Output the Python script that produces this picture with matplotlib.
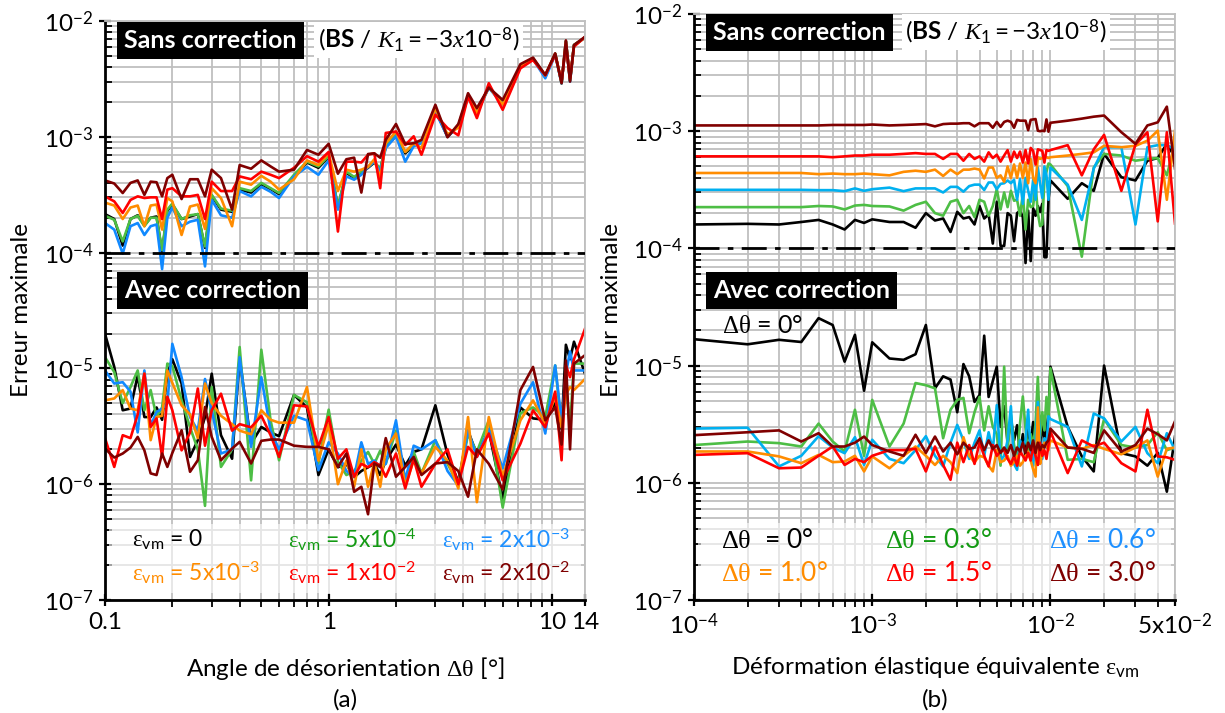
import numpy as np
import matplotlib
matplotlib.use("Agg")
import matplotlib.pyplot as plt
from matplotlib.ticker import FixedLocator, FixedFormatter, NullFormatter
from matplotlib.patches import Rectangle

plt.rcParams.update({
    "font.family": ["Lato", "DejaVu Sans"],
    "mathtext.fontset": "custom",
    "mathtext.rm": "Lato",
    "mathtext.bf": "Lato:bold",
    "mathtext.it": "Liberation Serif:italic",
    "mathtext.sf": "Liberation Serif",
})

# ---- panel (a): misorientation angle (deg)
angle = [0.10, 0.11, 0.12, 0.13, 0.14, 0.15, 0.16, 0.17, 0.18, 0.19, 0.20,
         0.22, 0.24, 0.26, 0.28, 0.30,
         0.33, 0.37, 0.40, 0.45, 0.50, 0.55, 0.60,
         0.70, 0.80, 0.90, 1.0,
         1.1, 1.2, 1.3, 1.4, 1.5, 1.6, 1.7, 1.8,
         2.0, 2.2, 2.4, 2.6,
         3.0, 3.4, 3.8, 4.2, 4.6,
         5.2, 6.0, 7.2, 8.2, 9.3,
         10.3, 11.0, 11.5, 12.0, 12.5, 14.0]

# without correction, units of 1e-4
sans_a_0 = [2.15, 1.95, 1.15, 1.95, 2.1, 1.72, 2.0, 2.05, 1.0, 2.3, 2.6,
            1.95, 2.05, 2.15, 1.1, 3.1,
            2.35, 2.25, 3.5, 3.3, 3.9, 3.55, 3.2,
            4.6, 6.0, 5.4, 6.7,
            2.45, 4.9, 4.4, 4.9, 5.4, 6.0, 5.2, 8.2,
            10.2, 7.2, 8.4, 9.0,
            17, 10, 12.4, 22.5, 16.5,
            26.8, 19.5, 41, 47.5, 33.5,
            52, 29, 67, 30.5, 62, 72]
sans_a_5e4 = [2.08, 1.92, 1.25, 1.95, 2.08, 1.69, 2.0, 2.0, 1.05, 2.35, 2.65,
              1.95, 2.1, 2.15, 1.13, 3.15,
              2.4, 2.3, 3.6, 3.4, 4.0, 3.6, 3.27,
              4.7, 6.1, 5.55, 6.8,
              2.5, 5.0, 4.5, 5.0, 5.5, 6.1, 5.3, 8.3,
              10.3, 7.4, 8.5, 9.1,
              17, 10.2, 12.5, 22.5, 16.5,
              27, 19.5, 41, 47.5, 33,
              52, 29, 67, 30.5, 62, 72]
sans_a_2e3 = [1.8, 1.58, 0.98, 1.69, 1.8, 1.42, 1.69, 1.75, 0.72, 2.0, 2.45,
              1.69, 1.85, 1.92, 0.76, 2.85,
              2.1, 2.0, 3.4, 3.06, 3.7, 3.35, 2.96,
              4.55, 5.5, 4.7, 6.25,
              2.35, 4.55, 4.26, 4.7, 5.5, 6.1, 5.0, 8.0,
              10.1, 6.1, 8.3, 8.8,
              16.5, 10, 12.5, 22, 16,
              26.5, 19, 41, 47, 32,
              51, 29, 66, 30, 61, 72]
sans_a_5e3 = [2.7, 2.55, 1.95, 2.45, 2.55, 1.69, 2.55, 2.6, 1.58, 2.96, 2.77,
              1.42, 2.5, 2.6, 1.6, 3.6,
              2.96, 1.69, 4.1, 3.86, 4.6, 4.1, 3.5,
              4.3, 6.25, 5.7, 7.2,
              3.4, 5.2, 5.0, 5.2, 5.5, 6.4, 4.4, 8.8,
              11.1, 7.4, 8.8, 8.0,
              17.5, 10.5, 12, 22, 16,
              27, 19, 41, 47, 34,
              52, 29.5, 66, 31, 61, 72]
sans_a_1e2 = [3.06, 2.77, 2.2, 2.85, 3.06, 2.96, 3.0, 3.0, 1.95, 3.5, 3.6,
              3.06, 3.06, 3.15, 1.95, 4.1,
              3.4, 3.4, 4.55, 4.3, 5.0, 4.7, 4.4,
              5.4, 6.8, 6.1, 7.4,
              1.52, 6.1, 6.1, 6.0, 7.0, 7.2, 3.6, 10.8,
              11.1, 8.5, 10.1, 7.0,
              15.5, 11.9, 10.3, 22.3, 14.5,
              29, 17.1, 39, 46, 34,
              51, 30, 62, 32, 60, 73]
sans_a_2e2 = [4.2, 3.95, 3.27, 4.0, 4.2, 3.15, 4.1, 4.05, 3.06, 4.4, 4.7,
              2.9, 4.3, 4.3, 3.06, 5.2,
              4.4, 2.35, 5.7, 5.3, 6.25, 5.55, 5.0,
              5.2, 7.7, 7.0, 8.7,
              4.8, 6.4, 6.6, 3.3, 7.1, 7.2, 6.6, 9.4,
              12.9, 8.65, 8.8, 9.4,
              18.9, 9.9, 12.9, 23.8, 17.7,
              26.6, 20.8, 42.4, 48.3, 34.2,
              52.6, 29, 68, 30, 62, 73]

# with correction, units of 1e-6
avec_a_0 = [19.9, 10.3, 4.35, 4.5, 8.7, 3.8, 3.8, 4.6, 3.6, 9.0, 12.0,
            7.4, 1.72, 2.4, 3.8, 9.0,
            2.65, 1.66, 12.2, 2.24, 3.12, 2.8, 2.6,
            5.9, 4.6, 1.2, 2.0,
            1.4, 1.5, 1.15, 1.3, 1.4, 1.5, 1.2, 1.6,
            2.2, 1.45, 1.9, 2.0,
            4.8, 1.8, 1.05, 2.9, 1.8,
            2.9, 0.75, 4.6, 3.7, 3.6,
            5.0, 3.0, 16, 12, 17, 9.0]
avec_a_5e4 = [12.5, 9.3, 5.0, 6.9, 9.6, 4.35, 6.5, 3.8, 4.6, 11.0, 10.5,
              5.3, 3.1, 2.0, 0.65, 6.9,
              1.41, 2.0, 15.3, 1.08, 14.5, 3.56, 1.61,
              5.9, 5.1, 1.51, 4.4,
              1.56, 1.2, 1.3, 1.6, 1.9, 1.5, 1.95, 1.5,
              2.9, 1.08, 1.9, 1.24,
              2.4, 1.5, 1.0, 2.7, 1.9,
              3.56, 0.63, 4.1, 4.6, 3.8,
              10.6, 3.1, 7.6, 3.1, 11, 11]
avec_a_2e3 = [9.6, 7.4, 7.6, 6.3, 2.8, 9.6, 3.2, 4.2, 4.5, 5.0, 16.3,
              8.4, 3.8, 2.9, 8.1, 4.35,
              1.84, 2.0, 12.5, 2.1, 8.4, 2.9, 2.0,
              3.9, 3.56, 1.32, 2.3,
              1.84, 1.3, 1.16, 2.3, 1.5, 1.6, 1.4, 1.5,
              3.56, 1.08, 2.15, 2.0,
              2.4, 1.3, 0.97, 2.9, 1.72,
              3.0, 1.37, 4.96, 7.6, 2.74,
              10.6, 3.5, 9.0, 14, 9.6, 9.6]
avec_a_5e3 = [5.3, 5.5, 6.5, 4.5, 4.35, 9.0, 2.4, 3.8, 3.9, 9.6, 7.5,
              4.8, 4.0, 2.5, 7.4, 5.0,
              3.9, 3.3, 2.9, 2.7, 4.35, 3.6, 3.4,
              3.4, 6.9, 1.6, 3.3,
              1.0, 1.6, 0.95, 2.0, 0.95, 1.55, 0.95, 2.0,
              2.74, 0.97, 1.6, 1.24,
              2.1, 1.6, 0.92, 3.8, 0.7,
              3.8, 1.16, 3.56, 5.3, 3.33,
              5.7, 3.1, 6.0, 6.9, 6.5, 8.1]
avec_a_1e2 = [2.5, 1.41, 2.65, 2.5, 4.0, 9.0, 3.12, 3.7, 1.72, 5.7, 4.35,
              1.96, 2.8, 6.7, 2.15, 4.35,
              6.05, 2.9, 3.3, 3.1, 3.9, 2.65, 1.72,
              4.8, 4.7, 2.1, 3.8,
              1.66, 2.0, 1.16, 1.5, 1.4, 1.55, 1.45, 1.16,
              1.84, 0.92, 1.66, 0.95,
              1.5, 2.0, 1.0, 2.1, 1.72,
              2.74, 1.08, 2.24, 4.35, 3.1,
              6.3, 1.61, 10.6, 8.4, 12, 22]
avec_a_2e2 = [2.03, 1.7, 1.84, 2.07, 2.56, 1.96, 1.24, 1.2, 1.84, 1.41, 1.86,
              2.92, 1.28, 1.61, 4.64, 2.56,
              1.61, 2.03, 2.32, 1.51, 2.37, 2.43, 2.43,
              2.15, 2.1, 2.1, 2.0,
              1.41, 1.84, 0.86, 0.95, 0.55, 1.51, 1.41, 2.5,
              1.16, 1.41, 1.72, 1.2,
              1.51, 1.55, 1.3, 0.78, 2.0,
              1.5, 0.9, 6.5, 10.3, 3.56,
              4.64, 2.2, 11.7, 2.0, 11.0, 13]

# ---- panel (b): equivalent elastic strain, units of 1e-3
strain = [0.1, 0.2, 0.3, 0.4, 0.5, 0.6, 0.7, 0.8, 0.9, 1.0,
          1.25, 1.5, 1.75, 2.0, 2.25, 2.5, 2.75, 3.0, 3.25, 3.5, 3.75, 4.0,
          4.25, 4.5, 4.75, 5.0,
          5.25, 5.5, 5.75, 6.0, 6.25, 6.5, 6.75, 7.0, 7.25, 7.5, 7.75, 8.0,
          8.25, 8.5, 8.75, 9.0, 9.25, 9.5, 9.75, 10.0,
          12.5, 15, 17.5, 20, 25, 30, 35, 40, 45, 50]

# without correction, units of 1e-4
sans_b_00 = [1.6, 1.62, 1.6, 1.68, 1.75, 1.6, 1.45, 1.75, 1.65, 1.77,
             1.68, 1.68, 1.5, 2.0, 1.73, 1.8, 1.38, 2.05, 1.8, 1.85, 1.6, 2.3, 1.8, 1.95, 1.1, 2.5,
             1.05, 1.05, 2.0, 1.9, 1.15, 2.0, 2.1, 1.85, 0.75, 2.1, 0.78, 2.2, 1.9, 2.3,
             2.05, 2.4, 0.84, 0.84, 2.6, 3.8,
             2.65, 3.6, 3.1, 6.4, 4.05, 3.8, 5.6, 5.9, 7.8, 6.0]
sans_b_03 = [2.25, 2.25, 2.25, 2.25, 2.3, 2.28, 2.15, 2.32, 2.35, 2.3,
             2.28, 2.1, 2.35, 2.5, 2.0, 1.9, 2.5, 2.6, 2.0, 2.3, 1.85, 2.6, 2.5, 1.9, 2.3, 3.2,
             2.15, 3.0, 2.25, 3.1, 2.55, 2.6, 1.9, 2.9, 1.45, 2.6, 2.25, 2.3, 3.5, 2.0,
             1.55, 1.6, 3.8, 4.5, 5.3, 5.2,
             3.4, 0.85, 4.9, 6.4, 6.2, 5.6, 5.8, 5.9, 4.2, 7.8]
sans_b_06 = [3.16, 3.16, 3.16, 3.16, 3.14, 3.14, 3.08, 3.25, 3.1, 3.2,
             3.3, 3.08, 3.25, 3.25, 3.25, 3.0, 3.35, 3.35, 3.05, 3.4, 3.5, 3.5, 3.15, 3.65, 3.65, 3.2,
             3.55, 3.6, 3.8, 3.6, 3.85, 2.6, 3.9, 2.4, 4.0, 3.1, 2.5, 3.85, 2.6, 4.9,
             3.56, 2.7, 5.0, 4.2, 2.6, 4.9,
             3.5, 1.75, 4.8, 7.3, 7.3, 1.6, 7.3, 7.6, 7.6, 7.0]
sans_b_10 = [4.4, 4.4, 4.4, 4.4, 4.3, 4.35, 4.3, 4.3, 4.35, 4.3,
             4.2, 4.5, 4.6, 4.5, 4.7, 4.15, 4.7, 4.3, 4.7, 4.7, 4.8, 4.7, 3.95, 4.9, 4.9, 4.0,
             4.2, 3.7, 5.0, 4.0, 5.2, 4.0, 5.3, 4.0, 5.4, 3.6, 5.8, 4.0, 3.6, 6.0,
             5.8, 5.9, 6.0, 6.0, 5.9, 6.0,
             6.2, 6.4, 6.6, 7.5, 7.3, 7.5, 8.3, 10.1, 2.6, 10.1]
sans_b_15 = [6.1, 6.1, 6.1, 6.1, 6.1, 6.0, 6.1, 6.2, 6.2, 6.3,
             6.3, 6.4, 6.5, 6.4, 6.4, 5.8, 6.4, 6.4, 5.6, 6.4, 5.8, 6.1, 5.5, 6.6, 5.9, 6.3,
             5.5, 6.2, 6.9, 5.5, 6.7, 5.9, 6.7, 5.4, 6.9, 5.3, 7.2, 6.8, 5.2, 7.0,
             6.9, 6.8, 5.4, 6.9, 6.8, 6.9,
             7.6, 4.2, 7.0, 9.3, 3.1, 7.7, 9.8, 1.7, 9.8, 1.63]
sans_b_30 = [11.2, 11.2, 11.2, 11.2, 11.2, 11.3, 11.3, 11.3, 11.3, 11.4,
             11.2, 11.3, 11.4, 11.5, 11.0, 11.5, 11.6, 11.6, 11.7, 11.7, 11.0, 11.7, 11.7, 11.7, 10.7, 12.0,
             10.9, 12.0, 12.3, 12.0, 10.7, 12.5, 12.3, 12.3, 12.3, 10.2, 12.5, 12.6, 12.7, 10.1,
             10.0, 10.1, 10.0, 12.6, 9.9, 11.8,
             12.3, 12.8, 13.3, 13.6, 9.8, 7.8, 11.2, 11.9, 16.2, 4.8]

# with correction, units of 1e-6
avec_b_00 = [16.8, 15.2, 16.6, 15.9, 25.4, 22.2, 10.8, 18.3, 6.1, 15.8,
             11.5, 11.2, 12.5, 22.2, 6.4, 8.1, 7.6, 4.0, 10.3, 8.1, 4.9, 5.6, 18.0, 5.4, 7.4, 9.8,
             3.0, 4.5, 2.2, 3.5, 2.3, 3.1, 1.8, 2.6, 1.7, 2.9, 2.2, 3.3, 2.0, 2.5,
             1.9, 3.2, 2.4, 2.8, 3.9, 9.8,
             3.0, 1.68, 1.25, 10.0, 1.79, 1.68, 1.4, 1.8, 0.84, 2.48]
avec_b_03 = [2.1, 2.25, 2.18, 2.04, 3.2, 2.25, 1.85, 4.2, 1.7, 5.1,
             2.04, 3.2, 7.1, 6.8, 6.4, 2.4, 4.2, 5.1, 5.3, 2.65, 4.0, 5.4, 2.8, 4.5, 3.0, 2.6,
             1.4, 9.8, 1.9, 3.8, 2.1, 1.6, 3.2, 5.45, 2.9, 1.7, 2.6, 2.0, 3.2, 8.0,
             2.5, 4.0, 2.8, 5.4, 3.5, 9.5,
             1.57, 1.6, 1.5, 3.5, 2.1, 2.0, 2.1, 2.7, 1.9, 2.0]
avec_b_06 = [2.9, 2.95, 1.38, 1.7, 2.5, 2.0, 1.79, 2.45, 1.42, 2.33,
             1.6, 1.47, 1.9, 2.5, 1.7, 1.38, 2.2, 3.12, 2.3, 1.6, 2.2, 2.8, 1.7, 2.7, 1.9, 4.6,
             1.55, 1.7, 2.3, 4.5, 1.45, 1.29, 2.3, 2.0, 2.3, 4.2, 1.7, 1.4, 2.3, 4.9,
             2.3, 1.6, 2.4, 2.0, 3.7, 3.5,
             3.0, 1.38, 3.9, 3.55, 2.25, 3.0, 1.79, 1.47, 2.65, 1.9]
avec_b_10 = [1.85, 1.85, 1.68, 1.47, 1.73, 1.5, 1.52, 1.7, 1.25, 1.68,
             1.33, 1.7, 2.04, 1.7, 1.42, 1.7, 1.5, 1.21, 2.45, 1.7, 1.5, 1.7, 1.65, 1.4, 1.25, 1.9,
             1.5, 1.55, 1.7, 1.4, 1.5, 1.7, 1.4, 1.5, 1.7, 1.85, 1.55, 1.3, 1.13, 4.4,
             1.45, 1.8, 2.2, 2.1, 1.9, 2.3,
             2.0, 1.95, 2.1, 1.95, 1.75, 2.0, 2.3, 1.13, 1.95, 2.0]
avec_b_15 = [1.73, 1.79, 1.33, 1.35, 1.7, 2.04, 1.42, 1.6, 1.5, 1.7,
             1.9, 1.9, 1.95, 1.25, 2.04, 1.42, 1.06, 2.2, 1.5, 2.1, 1.45, 2.2, 1.7, 1.38, 2.1, 1.7,
             1.85, 1.9, 1.6, 1.45, 1.7, 1.4, 1.85, 1.7, 1.55, 1.8, 1.55, 2.04, 1.7, 1.42,
             2.2, 1.7, 1.9, 1.6, 2.1, 2.74,
             1.21, 2.3, 2.04, 2.2, 1.47, 1.25, 4.2, 1.68, 1.65, 1.57]
avec_b_30 = [2.55, 2.7, 2.8, 2.25, 2.65, 2.04, 2.04, 2.2, 2.48, 2.1,
             1.85, 1.7, 2.57, 1.8, 2.48, 1.85, 2.2, 1.75, 2.2, 1.95, 2.0, 2.4, 1.9, 2.3, 1.95, 2.1,
             1.8, 2.0, 1.8, 2.1, 1.7, 2.0, 1.85, 2.2, 1.8, 2.2, 1.9, 2.3, 1.8, 2.2,
             1.9, 2.1, 2.0, 2.2, 2.3, 2.9,
             2.0, 1.95, 1.8, 2.8, 1.85, 2.1, 2.9, 2.6, 2.3, 3.35]

# colours: black, green, blue, orange, red, dark red
line_cols_a = ["#000000", "#4DBE45", "#1089FF", "#FF8C00", "#FF0000", "#800000"]
line_cols_b = ["#000000", "#4DBE45", "#00B0F0", "#FF8C00", "#FF0000", "#800000"]
text_cols = ["#000000", "#139A13", "#1E90FF", "#FF8C00", "#FF0000", "#7F0000"]

labels_a = [r"$\mathsf{\varepsilon}_{\mathrm{vm}}$ = 0",
            r"$\mathsf{\varepsilon}_{\mathrm{vm}}$ = 5x10$^{-4}$",
            r"$\mathsf{\varepsilon}_{\mathrm{vm}}$ = 2x10$^{-3}$",
            r"$\mathsf{\varepsilon}_{\mathrm{vm}}$ = 5x10$^{-3}$",
            r"$\mathsf{\varepsilon}_{\mathrm{vm}}$ = 1x10$^{-2}$",
            r"$\mathsf{\varepsilon}_{\mathrm{vm}}$ = 2x10$^{-2}$"]
labels_b = [r"$\mathsf{\Delta\theta}$  = 0°", r"$\mathsf{\Delta\theta}$ = 0.3°",
            r"$\mathsf{\Delta\theta}$ = 0.6°", r"$\mathsf{\Delta\theta}$ = 1.0°",
            r"$\mathsf{\Delta\theta}$ = 1.5°", r"$\mathsf{\Delta\theta}$ = 3.0°"]

GRID = "#BFBFBF"

fig = plt.figure(figsize=(12.25, 7.13), dpi=100)
ax1 = fig.add_axes([105 / 1225, 113 / 713, 480 / 1225, 579 / 713])
ax2 = fig.add_axes([694 / 1225, 113 / 713, 481 / 1225, 586 / 713])


def style_axes(ax):
    ax.set_xscale("log")
    ax.set_yscale("log")
    ax.set_ylim(1e-7, 1e-2)
    ax.set_axisbelow(True)
    ax.grid(True, which="both", color=GRID, linewidth=1.3)
    for s in ("left", "bottom"):
        ax.spines[s].set_linewidth(2.0)
    for s in ("top", "right"):
        ax.spines[s].set_color(GRID)
        ax.spines[s].set_linewidth(1.3)
    yt = [10.0 ** k for k in range(-7, -1)]
    ax.yaxis.set_major_locator(FixedLocator(yt))
    ax.yaxis.set_major_formatter(FixedFormatter(
        [r"$10^{%d}$" % k for k in range(-7, -1)]))
    ax.yaxis.set_minor_locator(FixedLocator(
        [m * 10.0 ** k for k in range(-7, -2) for m in range(2, 10)]))
    ax.yaxis.set_minor_formatter(NullFormatter())
    ax.tick_params(which="major", direction="inout", length=9, width=1.6,
                   labelsize=17.5, pad=4)
    ax.tick_params(axis="y", which="minor", direction="in", length=5, width=1.3)
    ax.tick_params(axis="x", which="minor", direction="out", length=5, width=1.3)
    ax.axhline(1e-4, color="black", linewidth=2.0, dashes=(9, 3, 2, 3),
               zorder=3)
    ax.add_patch(Rectangle((0.008, 0.012), 0.984, 0.12, transform=ax.transAxes,
                           facecolor="white", edgecolor="none", alpha=0.6,
                           zorder=1))


# ---- panel (a)
style_axes(ax1)
x_a = np.array(angle)
for vals, c in zip([sans_a_0, sans_a_5e4, sans_a_2e3, sans_a_5e3, sans_a_1e2, sans_a_2e2],
                   line_cols_a):
    ax1.plot(x_a, np.array(vals) * 1e-4, color=c, linewidth=1.9, zorder=2)
for vals, c in zip([avec_a_0, avec_a_5e4, avec_a_2e3, avec_a_5e3, avec_a_1e2, avec_a_2e2],
                   line_cols_a):
    ax1.plot(x_a, np.array(vals) * 1e-6, color=c, linewidth=1.9, zorder=2)
ax1.set_xlim(0.1, 14)
ax1.xaxis.set_major_locator(FixedLocator([0.1, 1, 10, 14]))
ax1.xaxis.set_major_formatter(FixedFormatter(["0.1", "1", "10", "14"]))
ax1.xaxis.set_minor_locator(FixedLocator(
    [m * 0.1 for m in range(2, 10)] + list(range(2, 10))))
ax1.xaxis.set_minor_formatter(NullFormatter())

# ---- panel (b)
style_axes(ax2)
x_b = np.array(strain) * 1e-3
for vals, c in zip([sans_b_00, sans_b_03, sans_b_06, sans_b_10, sans_b_15, sans_b_30],
                   line_cols_b):
    ax2.plot(x_b, np.array(vals) * 1e-4, color=c, linewidth=1.9, zorder=2)
for vals, c in zip([avec_b_00, avec_b_03, avec_b_06, avec_b_10, avec_b_15, avec_b_30],
                   line_cols_b):
    ax2.plot(x_b, np.array(vals) * 1e-6, color=c, linewidth=1.9, zorder=2)
ax2.set_xlim(1e-4, 5e-2)
ax2.xaxis.set_major_locator(FixedLocator([1e-4, 1e-3, 1e-2, 5e-2]))
ax2.xaxis.set_major_formatter(FixedFormatter(
    [r"$10^{-4}$", r"$10^{-3}$", r"$10^{-2}$", r"5x10$^{-2}$"]))
ax2.xaxis.set_minor_locator(FixedLocator(
    [m * 10.0 ** k for k in (-4, -3, -2) for m in range(2, 10)
     if m * 10.0 ** k < 5e-2]))
ax2.xaxis.set_minor_formatter(NullFormatter())

# ---- annotations
box = dict(facecolor="black", edgecolor="none", boxstyle="square,pad=0.28")
wbox = dict(facecolor="white", edgecolor="none", boxstyle="square,pad=0.15")
for ax, ysans, yavec, xbs in ((ax1, 0.967, 0.535, 0.444), (ax2, 0.969, 0.529, 0.439)):
    ax.text(0.04, ysans, "Sans correction", transform=ax.transAxes,
            color="white", fontsize=18, fontweight="bold", va="center",
            ha="left", bbox=box, zorder=6)
    ax.text(xbs, ysans, r"($\mathbf{BS}$ / $\mathit{K_1 = -3x10^{-8}}$)",
            transform=ax.transAxes, fontsize=17.5, va="center", ha="left",
            bbox=wbox, zorder=6)
    ax.text(0.04, yavec, "Avec correction", transform=ax.transAxes,
            color="white", fontsize=18, fontweight="bold", va="center",
            ha="left", bbox=box, zorder=6)

ax2.text(0.058, 0.469, r"$\mathsf{\Delta\theta}$ = 0°", transform=ax2.transAxes,
         fontsize=18, va="center", ha="left", zorder=6)

cols_a = [0.056, 0.381, 0.702]
cols_b = [0.056, 0.397, 0.738]
for i in range(6):
    r, k = divmod(i, 3)
    ax1.text(cols_a[k], [0.104, 0.047][r], labels_a[i], color=text_cols[i],
             transform=ax1.transAxes, fontsize=16.5, va="center", ha="left",
             zorder=6)
    ax2.text(cols_b[k], [0.102, 0.046][r], labels_b[i], color=text_cols[i],
             transform=ax2.transAxes, fontsize=19, va="center", ha="left",
             zorder=6)

# ---- axis titles
fig.text(345 / 1225, 1 - 668 / 713, r"Angle de désorientation $\mathsf{\Delta\theta}$ [°]",
         fontsize=17.5, ha="center", va="center")
fig.text(345 / 1225, 1 - 700 / 713, "(a)", fontsize=17.5, ha="center", va="center")
fig.text(935 / 1225, 1 - 668 / 713,
         r"Déformation élastique équivalente $\mathsf{\varepsilon}_{\mathrm{vm}}$",
         fontsize=17.5, ha="center", va="center")
fig.text(935 / 1225, 1 - 700 / 713, "(b)", fontsize=17.5, ha="center", va="center")
fig.text(22 / 1225, 1 - 310 / 713, "Erreur maximale", fontsize=17.5,
         rotation=90, ha="center", va="center")
fig.text(612 / 1225, 1 - 310 / 713, "Erreur maximale", fontsize=17.5,
         rotation=90, ha="center", va="center")

fig.savefig("out.png", dpi=100)
